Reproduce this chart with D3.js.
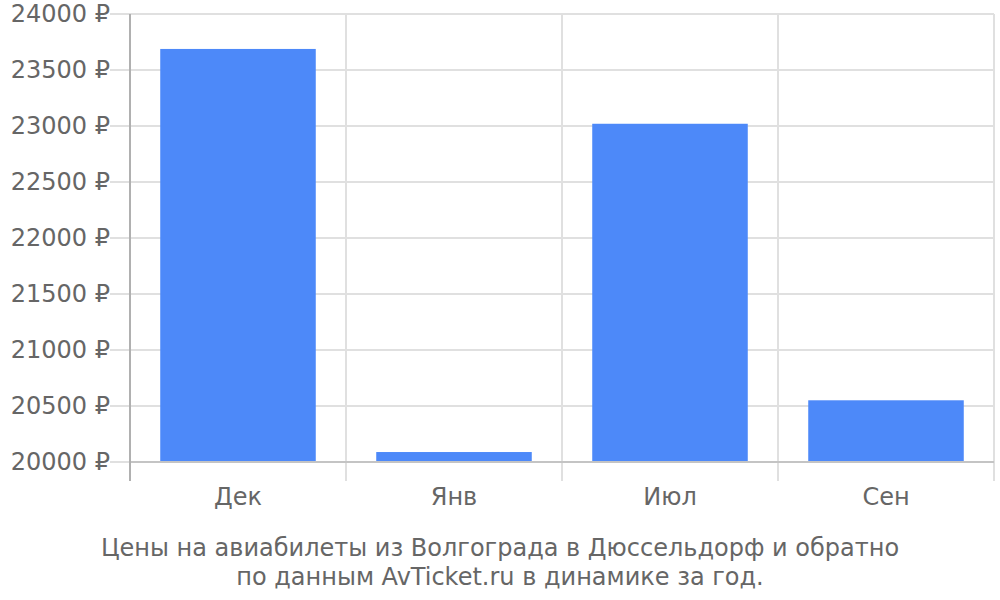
<!DOCTYPE html>
<html lang="ru">
<head>
    <meta charset="UTF-8">
    <title>Цены на авиабилеты</title>
    <script src="https://d3js.org/d3.v7.min.js"></script>
    <style>
        body { margin: 0; background: #fff; }
        text { font-family: "DejaVu Sans", sans-serif; fill: #666; }
    </style>
</head>
<body>

<div id="chart"></div>

<script>
    // Data
    const months = ["Дек", "Янв", "Июл", "Сен"];
    const prices = [23688, 20089, 23020, 20551];
    const yTicks = [20000, 20500, 21000, 21500, 22000, 22500, 23000, 23500, 24000];
    const titleLines = ["Цены на авиабилеты из Волгограда в Дюссельдорф и обратно",
                        "по данным AvTicket.ru в динамике за год."];

    // Dimensions
    const W = 1000, H = 600;
    const margin = { top: 14, right: 6, bottom: 138, left: 130 };
    const width = W - margin.left - margin.right;
    const height = H - margin.top - margin.bottom;

    const svg = d3.select("#chart")
        .append("svg")
        .attr("width", W)
        .attr("height", H);

    const g = svg.append("g")
        .attr("transform", "translate(" + margin.left + "," + margin.top + ")");

    // Scales
    const x = d3.scaleBand()
        .domain(months)
        .range([0, width])
        .padding(0);

    const y = d3.scaleLinear()
        .domain([20000, 24000])
        .range([height, 0]);

    // Horizontal grid + tick stubs on the left
    g.selectAll(".hgrid")
        .data(yTicks)
        .enter().append("line")
        .attr("class", "hgrid")
        .attr("x1", -20)
        .attr("x2", width)
        .attr("y1", d => y(d))
        .attr("y2", d => y(d))
        .attr("stroke", "#e0e0e0")
        .attr("stroke-width", 2);

    // Vertical grid at band edges
    const edges = months.map(m => x(m)).concat([width]);
    g.selectAll(".vgrid")
        .data(edges)
        .enter().append("line")
        .attr("class", "vgrid")
        .attr("x1", d => d)
        .attr("x2", d => d)
        .attr("y1", 0)
        .attr("y2", height + 19)
        .attr("stroke", "#e0e0e0")
        .attr("stroke-width", 2);

    // Bars
    const inset = x.bandwidth() * 0.14;
    g.selectAll(".bar")
        .data(prices)
        .enter().append("rect")
        .attr("class", "bar")
        .attr("x", (d, i) => x(months[i]) + inset)
        .attr("y", d => y(d))
        .attr("width", x.bandwidth() - 2 * inset)
        .attr("height", d => height - y(d))
        .attr("fill", "#4d89f9");

    // Axis lines
    g.append("line")
        .attr("x1", 0).attr("x2", width)
        .attr("y1", height).attr("y2", height)
        .attr("stroke", "#c4c4c4").attr("stroke-width", 2);
    g.append("line")
        .attr("x1", 0).attr("x2", 0)
        .attr("y1", 0).attr("y2", height + 19)
        .attr("stroke", "#b0b0b0").attr("stroke-width", 2);

    // Y tick labels
    g.selectAll(".ylab")
        .data(yTicks)
        .enter().append("text")
        .attr("class", "ylab")
        .attr("x", -20)
        .attr("y", d => y(d))
        .attr("dy", "0.35em")
        .attr("text-anchor", "end")
        .style("font-size", "24px")
        .text(d => d + " ₽");

    // X labels
    g.selectAll(".xlab")
        .data(months)
        .enter().append("text")
        .attr("class", "xlab")
        .attr("x", d => x(d) + x.bandwidth() / 2)
        .attr("y", height + 43)
        .attr("text-anchor", "middle")
        .style("font-size", "24px")
        .text(d => d);

    // Caption
    svg.selectAll(".caption")
        .data(titleLines)
        .enter().append("text")
        .attr("class", "caption")
        .attr("x", W / 2)
        .attr("y", (d, i) => 556 + i * 29)
        .attr("text-anchor", "middle")
        .style("font-size", "24px")
        .text(d => d);
</script>

</body>
</html>
